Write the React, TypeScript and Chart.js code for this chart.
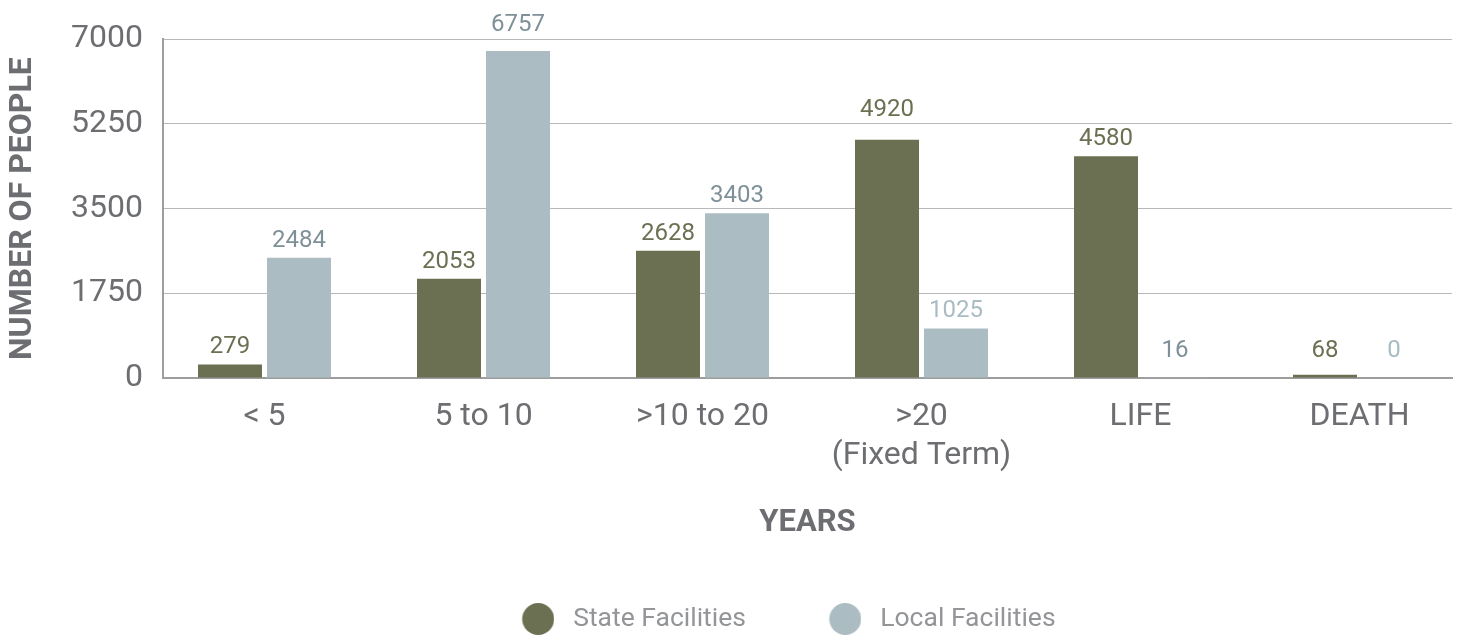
import React, { useEffect, useRef } from 'react';
import { Chart, registerables } from 'chart.js';

Chart.register(...registerables);
Chart.defaults.font.family = 'Roboto';

// ---- data ----
const categories: (string | string[])[] = ['< 5', '5 to 10', '>10 to 20', ['>20', '(Fixed Term)'], 'LIFE', 'DEATH'];
const stateValues: number[] = [279, 2053, 2628, 4920, 4580, 68];
const localValues: number[] = [2484, 6757, 3403, 1025, 16, 0];
const yTickValues: number[] = [0, 1750, 3500, 5250, 7000];
const seriesNames: string[] = ['State Facilities', 'Local Facilities'];
const xAxisTitle = 'YEARS';
const yAxisTitle = 'NUMBER OF PEOPLE';

// ---- styles ----
const STATE_COLOR = '#6b7052';
const LOCAL_COLOR = '#abbdc3';
const STATE_LABEL_COLORS = ['#6b7052', '#6b7052', '#6b7052', '#6b7052', '#6b7052', '#6b7052'];
const LOCAL_LABEL_COLORS = ['#7f9098', '#7f9098', '#7f9098', '#a9bcc3', '#7f9098', '#a9bcc3'];
const TEXT_COLOR = '#6d6e71';
const LEGEND_TEXT_COLOR = '#939598';
const GRID_COLOR = '#b8b8b8';
const AXIS_COLOR = '#9d9d9d';

// x range (linear index axis so that category spacing matches the reference)
const X_MIN = -0.4635;
const X_MAX = 5.4224;

function makeDot(color: string): HTMLCanvasElement {
  const c = document.createElement('canvas');
  c.width = 100;
  c.height = 34;
  const g = c.getContext('2d')!;
  g.fillStyle = color;
  g.beginPath();
  g.arc(83.75, 17, 16, 0, Math.PI * 2);
  g.fill();
  return c;
}

const valueLabels = {
  id: 'valueLabels',
  afterDatasetsDraw(chart: any) {
    const ctx = chart.ctx;
    const yScale = chart.scales.y;
    const gridYs = yScale.ticks.map((_: any, i: number) => yScale.getPixelForTick(i));
    const valueSets = [stateValues, localValues];
    const colorSets = [STATE_LABEL_COLORS, LOCAL_LABEL_COLORS];
    ctx.save();
    ctx.font = '24px Roboto';
    ctx.textAlign = 'center';
    ctx.textBaseline = 'alphabetic';
    chart.data.datasets.forEach((_ds: any, di: number) => {
      const meta = chart.getDatasetMeta(di);
      meta.data.forEach((el: any, i: number) => {
        let y = Math.min(el.y - 11, el.base - 21);
        for (const gy of gridYs) {
          if (gy > y - 18 && gy < y + 3) y = gy - 8;
        }
        ctx.fillStyle = colorSets[di][i];
        ctx.fillText(String(valueSets[di][i]), el.x, y);
      });
    });
    ctx.restore();
  },
};

export default function App() {
  const ref = useRef<HTMLCanvasElement | null>(null);

  useEffect(() => {
    document.body.style.margin = '0';
    document.body.style.overflow = 'hidden';
    const dots = [makeDot(STATE_COLOR), makeDot(LOCAL_COLOR)];
    const chart = new Chart(ref.current!, {
      type: 'bar',
      data: {
        datasets: [
          {
            label: seriesNames[0],
            data: stateValues.map((v, i) => ({ x: i, y: v })),
            backgroundColor: STATE_COLOR,
            categoryPercentage: 0.6301,
            barPercentage: 0.9275,
          },
          {
            label: seriesNames[1],
            data: localValues.map((v, i) => ({ x: i, y: v })),
            backgroundColor: LOCAL_COLOR,
            categoryPercentage: 0.6301,
            barPercentage: 0.9275,
          },
        ],
      },
      options: {
        animation: false,
        responsive: true,
        maintainAspectRatio: false,
        layout: { padding: { left: 52.5, top: 37, right: 6, bottom: 0 } },
        plugins: {
          tooltip: { enabled: false },
          legend: {
            position: 'bottom',
            maxHeight: 39.25,
            labels: {
              usePointStyle: true,
              pointStyleWidth: 111,
              boxHeight: 26.5,
              padding: 10,
              color: LEGEND_TEXT_COLOR,
              font: { family: 'Roboto', size: 26.5 },
              generateLabels: (c: any) => {
                const items = (Chart.defaults.plugins.legend.labels as any).generateLabels(c);
                items.forEach((it: any, i: number) => {
                  it.pointStyle = dots[i];
                });
                return items;
              },
            },
          },
        },
        scales: {
          x: {
            type: 'linear',
            offset: false,
            min: X_MIN,
            max: X_MAX,
            grid: { display: false },
            border: { display: true, color: AXIS_COLOR, width: 2 },
            ticks: {
              padding: 12,
              autoSkip: false,
              maxRotation: 0,
              color: TEXT_COLOR,
              font: { family: 'Roboto', size: 32, lineHeight: 1.2 },
              callback: (v: any) => (categories[v] as any) ?? '',
            },
            afterBuildTicks: (s: any) => {
              s.ticks = categories.map((_, i) => ({ value: i }));
            },
            afterFit: (s: any) => {
              s.height = 217.75;
            },
            title: {
              display: true,
              text: xAxisTitle,
              color: TEXT_COLOR,
              font: { family: 'Roboto', size: 31, weight: 'bold' },
              padding: { top: 0, bottom: 54.15 },
            },
          },
          y: {
            min: yTickValues[0],
            max: yTickValues[yTickValues.length - 1],
            afterBuildTicks: (s: any) => {
              s.ticks = yTickValues.map((v) => ({ value: v }));
            },
            ticks: {
              padding: 20,
              color: TEXT_COLOR,
              font: { family: 'Roboto', size: 32 },
              callback: (v: any) => String(v),
            },
            grid: { color: GRID_COLOR, lineWidth: 1, drawTicks: false },
            border: { display: true, color: AXIS_COLOR, width: 2 },
            title: {
              display: true,
              text: yAxisTitle,
              color: TEXT_COLOR,
              font: { family: 'Roboto', size: 32, weight: 'bold' },
              padding: { top: -48.7, bottom: 0 },
            },
            afterFit: (s: any) => {
              s.width = 110.5;
            },
          },
        },
      } as any,
      plugins: [valueLabels],
    });
    return () => chart.destroy();
  }, []);

  return (
    <div style={{ width: '1458px', height: '635px', position: 'relative' }}>
      <canvas ref={ref} />
    </div>
  );
}
